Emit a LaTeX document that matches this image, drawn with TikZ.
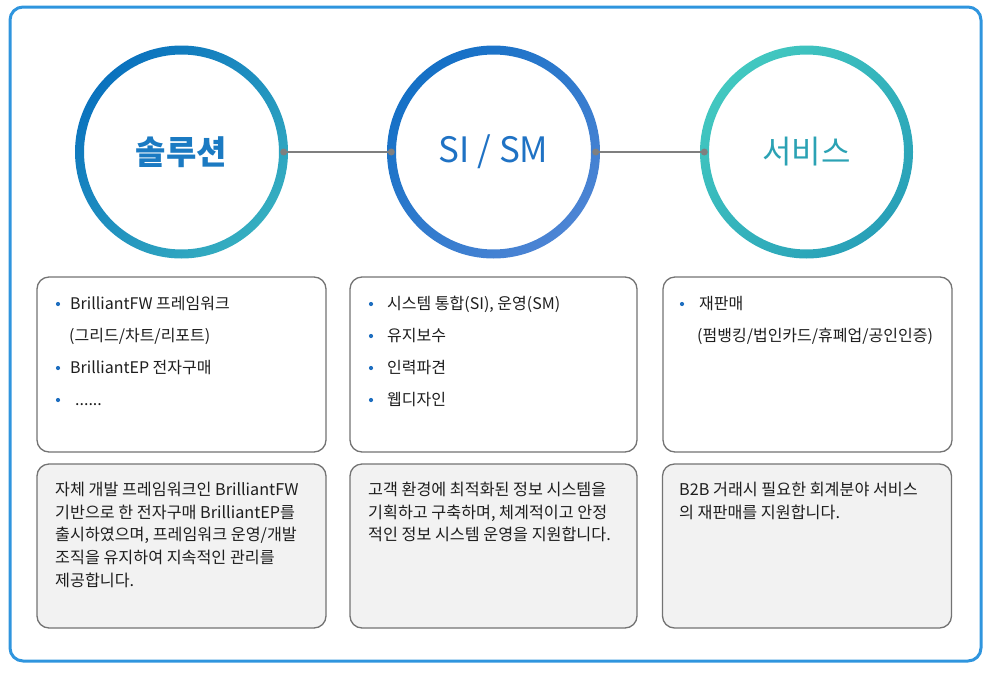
\documentclass[tikz,border=0pt]{standalone}
\usepackage{fontspec}
\setmainfont{Noto Sans CJK KR}
\usetikzlibrary{positioning}

\definecolor{frameblue}{HTML}{2F95DE}
\definecolor{solA}{HTML}{0A72BE}
\definecolor{solB}{HTML}{35AEC0}
\definecolor{siA}{HTML}{1470C6}
\definecolor{siB}{HTML}{4C84D4}
\definecolor{svcA}{HTML}{42C8C0}
\definecolor{svcB}{HTML}{28A0B8}
\definecolor{soltext}{HTML}{1B7AC2}
\definecolor{sitext}{HTML}{1F72C4}
\definecolor{svctext}{HTML}{2BA2B4}
\definecolor{linkgray}{HTML}{7F7F7F}
\definecolor{boxgray}{HTML}{737373}
\definecolor{boxfill}{HTML}{F2F2F2}
\definecolor{textdark}{HTML}{1E1E1E}
\definecolor{bulletblue}{HTML}{1F6FC0}

\begin{document}
\begin{tikzpicture}[
				x=1pt, y=-1pt,
				ring/.style={circle, minimum size=204pt, inner sep=0pt},
				wbox/.style={rectangle, rounded corners=12pt, draw=boxgray, line width=1.3pt, fill=white, minimum width=289pt, minimum height=175pt},
				gbox/.style={rectangle, rounded corners=12pt, draw=boxgray, line width=1.3pt, fill=boxfill, minimum width=289pt, minimum height=164pt},
				item/.style={anchor=west, inner sep=0pt, text=textdark, font=\fontsize{16}{18}\selectfont},
				bullet/.style={circle, fill=bulletblue, inner sep=0pt, minimum size=4.2pt},
				para/.style={anchor=north west, inner sep=0pt, align=left, text=textdark, font=\fontsize{16.2}{22.6}\selectfont},
				link/.style={draw=linkgray, line width=1.6pt},
				linkdot/.style={fill=linkgray}
				]
				\useasboundingbox (0,0) rectangle (1000,672);
				
				% 바깥 테두리
				\node[rectangle, rounded corners=13pt, draw=frameblue, line width=3pt, minimum width=971pt, minimum height=654pt] (frame) at (495.5,334) {};
				
				% 원
				\node[ring] (sol) at (181.5,152) {};
				\node[ring] (sism) at (493.5,152) {};
				\node[ring] (svc) at (806.5,152) {};
				
				\shade[even odd rule, top color=solA, bottom color=solB, shading angle=45] (sol.center) circle[radius=106.5pt] circle[radius=97.5pt];
				\shade[even odd rule, top color=siA, bottom color=siB, shading angle=45] (sism.center) circle[radius=106.5pt] circle[radius=97.5pt];
				\shade[even odd rule, top color=svcA, bottom color=svcB, shading angle=45] (svc.center) circle[radius=106.5pt] circle[radius=97.5pt];
				
				\node[text=soltext, font=\fontsize{33}{36}\selectfont\bfseries] (solname) at (sol.center) {솔루션};
				\node[text=sitext, font=\fontsize{35}{38}\selectfont] (sismname) at (sism.center) {SI / SM};
				\node[text=svctext, font=\fontsize{32}{36}\selectfont] (svcname) at (svc.center) {서비스};
				
				% 연결선
				\draw[link] (sol.east) -- (sism.west);
				\draw[link] (sism.east) -- (svc.west);
				\fill[linkdot] (sol.east) circle[radius=3.5pt];
				\fill[linkdot] (sism.west) circle[radius=3.5pt];
				\fill[linkdot] (sism.east) circle[radius=3.5pt];
				\fill[linkdot] (svc.west) circle[radius=3.5pt];
				
				% 흰 상자
				\node[wbox] (solbox) at (181.5,364.5) {};
				\node[wbox, minimum width=287pt] (sismbox) at (493.5,364.5) {};
				\node[wbox] (svcbox) at (807.5,364.5) {};
				
				% 솔루션 항목
				\node[bullet] (sb1) at (58,304) {};
				\node[item] (si1) at (70,304) {BrilliantFW 프레임워크};
				\node[item] (si1b) at (69,336) {(그리드/차트/리포트)};
				\node[bullet] (sb2) at (58,368) {};
				\node[item] (si2) at (70,368) {BrilliantEP 전자구매};
				\node[bullet] (sb3) at (58,400) {};
				\node[item, anchor=base west] (si3) at (75,405) {......};
				
				% SI/SM 항목
				\node[bullet] (mb1) at (371,304) {};
				\node[item] (mi1) at (387,304) {시스템 통합(SI), 운영(SM)};
				\node[bullet] (mb2) at (371,336) {};
				\node[item] (mi2) at (387,336) {유지보수};
				\node[bullet] (mb3) at (371,368) {};
				\node[item] (mi3) at (387,368) {인력파견};
				\node[bullet] (mb4) at (371,400) {};
				\node[item] (mi4) at (387,400) {웹디자인};
				
				% 서비스 항목
				\node[bullet] (vb1) at (682,304) {};
				\node[item] (vi1) at (699,304) {재판매};
				\node[item] (vi1b) at (697,336) {(펌뱅킹/법인카드/휴폐업/공인인증)};
				
				% 회색 상자
				\node[gbox] (soldesc) at (181.5,546) {};
				\node[gbox, minimum width=287pt] (sismdesc) at (493.5,546) {};
				\node[gbox] (svcdesc) at (807,546) {};
				
				\node[para] (soltxt) at (55,482) {자체 개발 프레임워크인 BrilliantFW\\기반으로 한 전자구매 BrilliantEP를\\출시하였으며, 프레임워크 운영/개발\\조직을 유지하여 지속적인 관리를\\제공합니다.};
				\node[para] (sismtxt) at (368,482) {고객 환경에 최적화된 정보 시스템을\\기획하고 구축하며, 체계적이고 안정\\적인 정보 시스템 운영을 지원합니다.};
				\node[para] (svctxt) at (679,482) {B2B 거래시 필요한 회계분야 서비스\\의 재판매를 지원합니다.};
				
			\end{tikzpicture}
\end{document}
